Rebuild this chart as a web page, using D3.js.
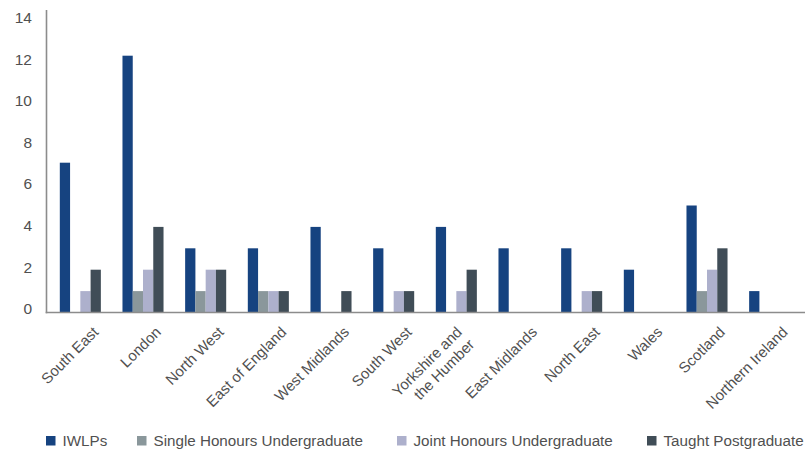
<!DOCTYPE html>
<html>
<head>
<meta charset="utf-8">
<script src="https://cdn.jsdelivr.net/npm/d3@7/dist/d3.min.js"></script>
<style>
  html, body { margin: 0; padding: 0; background: #ffffff; }
  svg { display: block; }
  text { font-family: "Liberation Sans", Arial, sans-serif; fill: #505050; }
</style>
</head>
<body>
<svg id="chart" width="812" height="452"></svg>
<script>
// Regions (multi-line names split on "\n")
const regions = [
  "South East", "London", "North West", "East of England", "West Midlands",
  "South West", "Yorkshire and\nthe Humber", "East Midlands", "North East",
  "Wales", "Scotland", "Northern Ireland"
];
const seriesNames = ["IWLPs", "Single Honours Undergraduate", "Joint Honours Undergraduate", "Taught Postgraduate"];
const iwlps        = [7, 12, 3, 3, 4, 3, 4, 3, 3, 2, 5, 1];
const singleHons   = [0, 1, 1, 1, 0, 0, 0, 0, 0, 0, 1, 0];
const jointHons    = [1, 2, 2, 1, 0, 1, 1, 0, 1, 0, 2, 0];
const taughtPG     = [2, 4, 2, 1, 1, 1, 2, 0, 1, 0, 3, 0];
const yTicks = [0, 2, 4, 6, 8, 10, 12, 14];
const colors = ["#164380", "#8a979b", "#adb0cc", "#404d57"];

const series = [iwlps, singleHons, jointHons, taughtPG];

const svg = d3.select("#chart");

const axisLeft = 46.5, axisRight = 805, baseY = 312.5, topY = 12.9;

const x0 = d3.scaleBand()
  .domain(regions)
  .range([49, 801])
  .paddingInner(0.345)
  .paddingOuter(0.1725);

const x1 = d3.scaleBand()
  .domain(d3.range(series.length))
  .range([0, x0.bandwidth()]);

const y = d3.scaleLinear().domain([0, 14]).range([baseY, topY]);
// tick labels sit on a slightly tighter spread than the ticks themselves
const yLabel = d3.scaleLinear().domain([0, 14]).range([308.5, 17.5]);

// Bars
const groups = svg.append("g").selectAll("g")
  .data(regions)
  .join("g")
  .attr("transform", d => `translate(${x0(d)},0)`);

groups.selectAll("rect")
  .data((d, i) => series.map((s, k) => ({ k, v: s[i] })))
  .join("rect")
  .filter(d => d.v > 0)
  .attr("x", d => x1(d.k))
  .attr("width", x1.bandwidth())
  .attr("y", d => y(d.v))
  .attr("height", d => y(0) - y(d.v) + 0.5)
  .attr("fill", d => colors[d.k]);

// Axis lines
svg.append("line")
  .attr("x1", axisLeft).attr("x2", axisLeft)
  .attr("y1", 10).attr("y2", baseY + 0.8)
  .attr("stroke", "#8c8c8c").attr("stroke-width", 1.6);
svg.append("line")
  .attr("x1", axisLeft - 0.8).attr("x2", axisRight)
  .attr("y1", baseY).attr("y2", baseY)
  .attr("stroke", "#8c8c8c").attr("stroke-width", 1.6);

// Y tick labels
svg.append("g").selectAll("text")
  .data(yTicks)
  .join("text")
  .attr("x", 32)
  .attr("y", d => yLabel(d))
  .attr("dy", "0.36em")
  .attr("text-anchor", "end")
  .style("font-size", "15.5px")
  .text(d => d);

// X category labels, rotated -45°, right-aligned lines
const lineH = 17.5, c45 = Math.SQRT1_2;
const xl = svg.append("g");
regions.forEach(name => {
  const lines = name.split("\n");
  const n = lines.length;
  const cx = x0(name) + x0.bandwidth() / 2;
  const ex = cx + 19 - (n - 1) * lineH * c45;
  const ey = 333;
  const t = xl.append("text")
    .attr("transform", `translate(${ex},${ey}) rotate(-45)`)
    .attr("text-anchor", "end")
    .style("font-size", "15px");
  lines.forEach((ln, i) => {
    t.append("tspan").attr("x", 0).attr("y", i * lineH).text(ln);
  });
});

// Legend
const legendX = [46, 137, 397, 647];
const legend = svg.append("g").selectAll("g")
  .data(seriesNames)
  .join("g")
  .attr("transform", (d, i) => `translate(${legendX[i]},436)`);
legend.append("rect")
  .attr("width", 9.5).attr("height", 9.5)
  .attr("fill", (d, i) => colors[i]);
legend.append("text")
  .attr("x", 16.5).attr("y", 5).attr("dy", "0.36em")
  .style("font-size", "15.2px")
  .text(d => d);
</script>
</body>
</html>
